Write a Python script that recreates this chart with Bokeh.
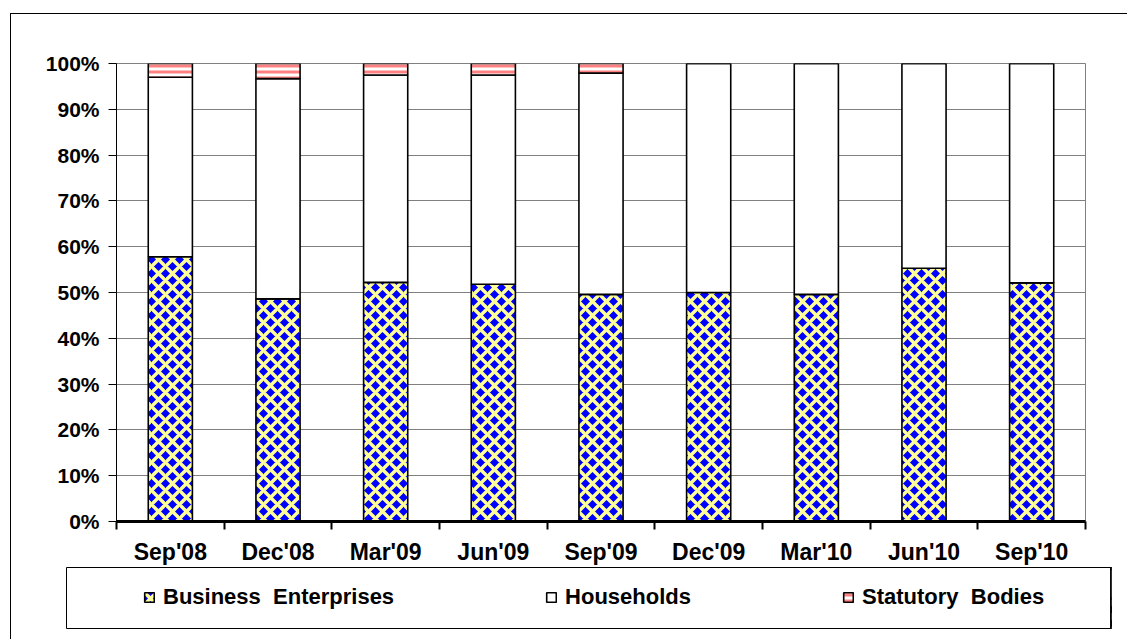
from bokeh.plotting import figure
from bokeh.layouts import column
from bokeh.models import (ColumnDataSource, Range1d, FixedTicker,
                          NumeralTickFormatter, Legend, LegendItem)
from bokeh.embed import file_html
from bokeh.resources import INLINE

# Quarterly share of holdings by investor category (fractions of 1)
quarters = ["Sep'08", "Dec'08", "Mar'09", "Jun'09", "Sep'09",
            "Dec'09", "Mar'10", "Jun'10", "Sep'10"]
business = [0.578, 0.486, 0.522, 0.518, 0.496, 0.500, 0.496, 0.553, 0.521]
households = [0.392, 0.481, 0.453, 0.457, 0.483, 0.500, 0.504, 0.447, 0.479]
statutory = [0.030, 0.033, 0.025, 0.025, 0.021, 0.000, 0.000, 0.000, 0.000]
series_names = ["Business  Enterprises", "Households", "Statutory  Bodies"]
y_ticks = [i / 10 for i in range(11)]

FONT = "Liberation Sans"

# each quarter occupies one unit slot; columns sit in the middle of their slot
n = len(quarters)
centres = [i + 0.5 for i in range(n)]
edges = list(range(n + 1))

stack_keys = ["business", "households", "statutory"]
styles = dict(
    fill_color=["#0000FF", "white", "white"],
    hatch_pattern=["diagonal_cross", " ", "horizontal_line"],
    hatch_color=["#FFFF99", "white", "#FF8080"],
    hatch_scale=[14, 12, 6],
    hatch_weight=[3.5, 1, 3],
    line_color="black", line_width=1.6,
)

source = ColumnDataSource(dict(x=centres, business=business,
                               households=households, statutory=statutory))

p = figure(width=1116, height=553, output_backend="svg", toolbar_location=None,
           x_range=Range1d(0, n), y_range=Range1d(0, 1),
           min_border_left=105, min_border_right=42, min_border_top=49, min_border_bottom=46,
           background_fill_color="white", border_fill_color="white")
p.frame_align = False

p.outline_line_color = "#808080"
p.outline_line_width = 1

# stacked columns
p.vbar_stack(stack_keys, x="x", width=0.41, source=source, **styles)

# y axis
yax = p.yaxis[0]
yax.ticker = FixedTicker(ticks=y_ticks)
yax.formatter = NumeralTickFormatter(format="0%")
yax.axis_line_color = "black"
yax.axis_line_width = 1
yax.major_tick_line_color = "black"
yax.major_tick_in = 0
yax.major_tick_out = 8
yax.minor_tick_line_color = None
yax.major_label_standoff = 9
yax.major_label_text_font = FONT
yax.major_label_text_font_style = "bold"
yax.major_label_text_font_size = "21px"
yax.major_label_text_color = "black"

p.ygrid.grid_line_color = "#808080"
p.ygrid.grid_line_width = 1
p.xgrid.visible = False

# x axis: quarter labels at slot centres, tick marks (minor) on slot boundaries
xax = p.xaxis[0]
xax.ticker = FixedTicker(ticks=centres, minor_ticks=edges)
xax.major_label_overrides = {c: q for c, q in zip(centres, quarters)}
xax.axis_line_color = "black"
xax.axis_line_width = 3
xax.major_tick_line_color = None
xax.major_tick_in = 0
xax.major_tick_out = 0
xax.minor_tick_line_color = "black"
xax.minor_tick_line_width = 2
xax.minor_tick_in = 0
xax.minor_tick_out = 8
xax.major_label_standoff = 9
xax.major_label_text_font = FONT
xax.major_label_text_font_style = "bold"
xax.major_label_text_font_size = "23px"
xax.major_label_text_color = "black"

# legend panel: its frame is the legend box; the swatch renderers share the
# data but their x range keeps the columns themselves out of this panel
lg = figure(width=1116, height=72, output_backend="svg", toolbar_location=None,
            x_range=Range1d(-2, -1), y_range=Range1d(0, 1),
            x_axis_location=None, y_axis_location=None,
            min_border_left=55, min_border_right=16, min_border_top=0, min_border_bottom=11,
            background_fill_color="white", border_fill_color="white")
lg.frame_align = False
lg.outline_line_color = "black"
lg.outline_line_width = 1
lg.grid.visible = False

swatches = lg.vbar_stack(stack_keys, x="x", width=0.41, source=source, **styles)

legend = Legend(items=[LegendItem(label=s, renderers=[r]) for s, r in zip(series_names, swatches)],
                location=(77, 18), orientation="horizontal",
                glyph_width=12, glyph_height=12, label_standoff=8, spacing=151,
                padding=0, margin=0, border_line_color=None, background_fill_alpha=0,
                label_text_font=FONT, label_text_font_style="bold",
                label_text_font_size="22px", label_text_color="black")
lg.add_layout(legend)

page = column(p, lg, spacing=0, margin=(13, 0, 0, 10),
              styles={"border-left": "1px solid black", "border-top": "1px solid black"})

open("out.html", "w").write(file_html(page, INLINE))
